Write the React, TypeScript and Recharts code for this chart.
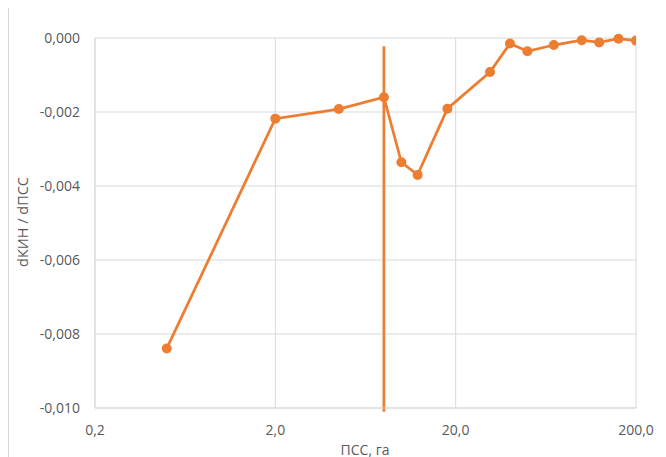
import React from 'react';
import { LineChart, Line, XAxis, YAxis, CartesianGrid, ReferenceLine, Label } from 'recharts';

const pss = [0.5, 2, 4.5, 8, 10, 12.3, 18, 31, 40, 50, 70, 100, 125, 160, 200];
const dkin = [-0.00839, -0.00218, -0.00192, -0.0016, -0.00336, -0.0037, -0.00191, -0.00092, -0.00015, -0.00036, -0.00019, -0.00006, -0.00012, -0.00002, -0.00007];
const xTicks = [0.2, 2, 20, 200];
const yTicks = [-0.01, -0.008, -0.006, -0.004, -0.002, 0];
const thresholdX = 8;
const thresholdYs = [-0.00022, -0.0101];

const data = pss.map((x, i) => ({ x, y: dkin[i] }));

const ORANGE = '#ED7D31';
const TEXT = '#595959';
const GRID = '#d9d9d9';
const FONT = '"Open Sans", sans-serif';

const fmtX = (v: number) => v.toFixed(1).replace('.', ',');
const fmtY = (v: number) => v.toFixed(3).replace('.', ',');

export default function App() {
  return (
    <div style={{ position: 'relative', width: 658, height: 451, overflow: 'hidden', marginTop: -2 }}>
      <div style={{ position: 'absolute', left: 0, top: 1, width: 720, height: 520, border: `1px solid ${GRID}`, boxSizing: 'border-box' }} />
      <div style={{ position: 'absolute', left: 0, top: 2 }}>
        <LineChart width={658} height={449} margin={{ top: 30, right: 30, bottom: 0, left: 0 }} style={{ fontFamily: FONT }}>
          <CartesianGrid stroke={GRID} strokeWidth={1} />
          <XAxis
            dataKey="x"
            type="number"
            scale="log"
            domain={[0.2, 200]}
            ticks={xTicks}
            tickFormatter={fmtX}
            allowDataOverflow
            height={49}
            axisLine={{ stroke: GRID }}
            tickLine={false}
            tickSize={0}
            tickMargin={17}
            tick={{ fill: TEXT, fontSize: 14, fontFamily: FONT }}
          >
            <Label
              content={() => (
                <text x={357} y={446.5} textAnchor="middle" fill={TEXT} fontSize={14} fontFamily={FONT}>
                  ПСС, га
                </text>
              )}
            />
          </XAxis>
          <YAxis
            type="number"
            domain={[-0.01, 0]}
            ticks={yTicks}
            tickFormatter={fmtY}
            width={87}
            axisLine={{ stroke: GRID }}
            tickLine={false}
            tickSize={0}
            tickMargin={15}
            tick={{ fill: TEXT, fontSize: 14, fontFamily: FONT }}
          >
            <Label
              content={() => (
                <text x={20} y={214} transform="rotate(-90 20 214)" textAnchor="middle" fill={TEXT} fontSize={14.5} fontFamily={FONT}>
                  dКИН / dПСС
                </text>
              )}
            />
          </YAxis>
          <ReferenceLine
            segment={[{ x: thresholdX, y: thresholdYs[0] }, { x: thresholdX, y: thresholdYs[1] }]}
            stroke={ORANGE}
            strokeWidth={2.75}
            ifOverflow="visible"
          />
          <Line
            data={data}
            dataKey="y"
            stroke={ORANGE}
            strokeWidth={2.75}
            dot={{ r: 5, fill: ORANGE, stroke: ORANGE, strokeWidth: 0 }}
            isAnimationActive={false}
          />
        </LineChart>
      </div>
    </div>
  );
}
